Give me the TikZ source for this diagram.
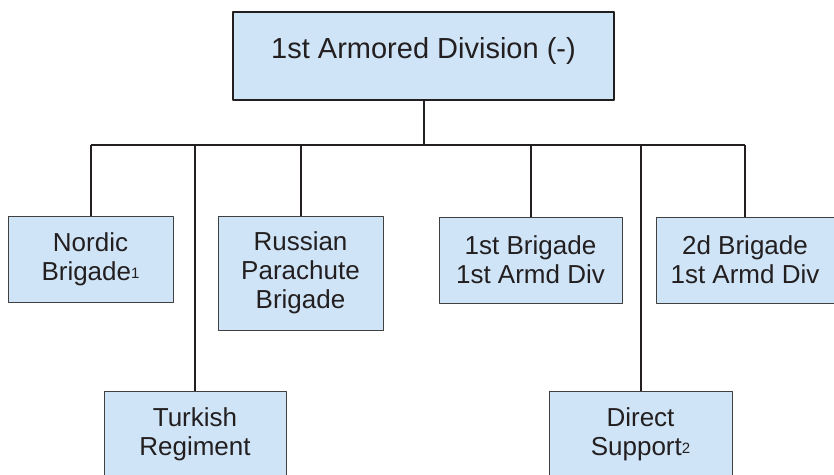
\documentclass[tikz,border=0pt]{standalone}
\usepackage{fontspec}
\setmainfont{Liberation Sans}

\definecolor{unitfill}{RGB}{207,228,246}
\definecolor{orgline}{RGB}{35,31,32}

\newcommand{\notemark}[1]{\raisebox{1.5pt}{\fontsize{15}{15}\selectfont #1}}

\tikzset{
    unitbox/.style={draw=black!75, line width=1pt, fill=unitfill, text=orgline,
        align=center, inner sep=0pt, minimum height=86pt,
        font=\fontsize{26}{29}\selectfont},
    hqbox/.style={unitbox, draw=orgline, line width=1.5pt, minimum width=381pt,
        minimum height=88pt, text height=21pt, text depth=17pt,
        font=\fontsize{29}{33}\selectfont},
    orgwire/.style={draw=orgline, line width=2pt}
}

\begin{document}
\begin{tikzpicture}[x=1pt, y=-1pt, line join=round]

        \useasboundingbox (0,0) rectangle (834,474);

        % Headquarters
        \node[hqbox] (div) at (423.5,56) {1st Armored Division (-)};

        % Subordinate units (upper row)
        \node[unitbox, minimum width=165pt] (nordic) at (90.5,259) {Nordic\\Brigade\notemark{1}};
        \node[unitbox, minimum width=165pt, minimum height=114pt] (russian) at (300.5,273) {Russian\\Parachute\\Brigade};
        \node[unitbox, minimum width=183pt] (bdeone) at (530.5,260) {1st Brigade\\1st Armd Div};
        \node[unitbox, minimum width=178pt] (bdetwo) at (745,260) {2d Brigade\\1st Armd Div};

        % Subordinate units (lower row)
        \node[unitbox, minimum width=182pt] (turkish) at (195,434) {Turkish\\Regiment};
        \node[unitbox, minimum width=183pt] (support) at (640.5,434) {Direct\\Support\notemark{2}};

        % Bus line
        \coordinate (bus) at (423.5,145);
        \draw[orgwire] (div.south) -- (bus);
        \draw[orgwire] (nordic.north |- bus) -- (bdetwo.north |- bus);

        % Stems
        \foreach \unit in {nordic, turkish, russian, bdeone, support, bdetwo} {
            \draw[orgwire] (\unit.north) -- (\unit.north |- bus);
        }
    \end{tikzpicture}
\end{document}
